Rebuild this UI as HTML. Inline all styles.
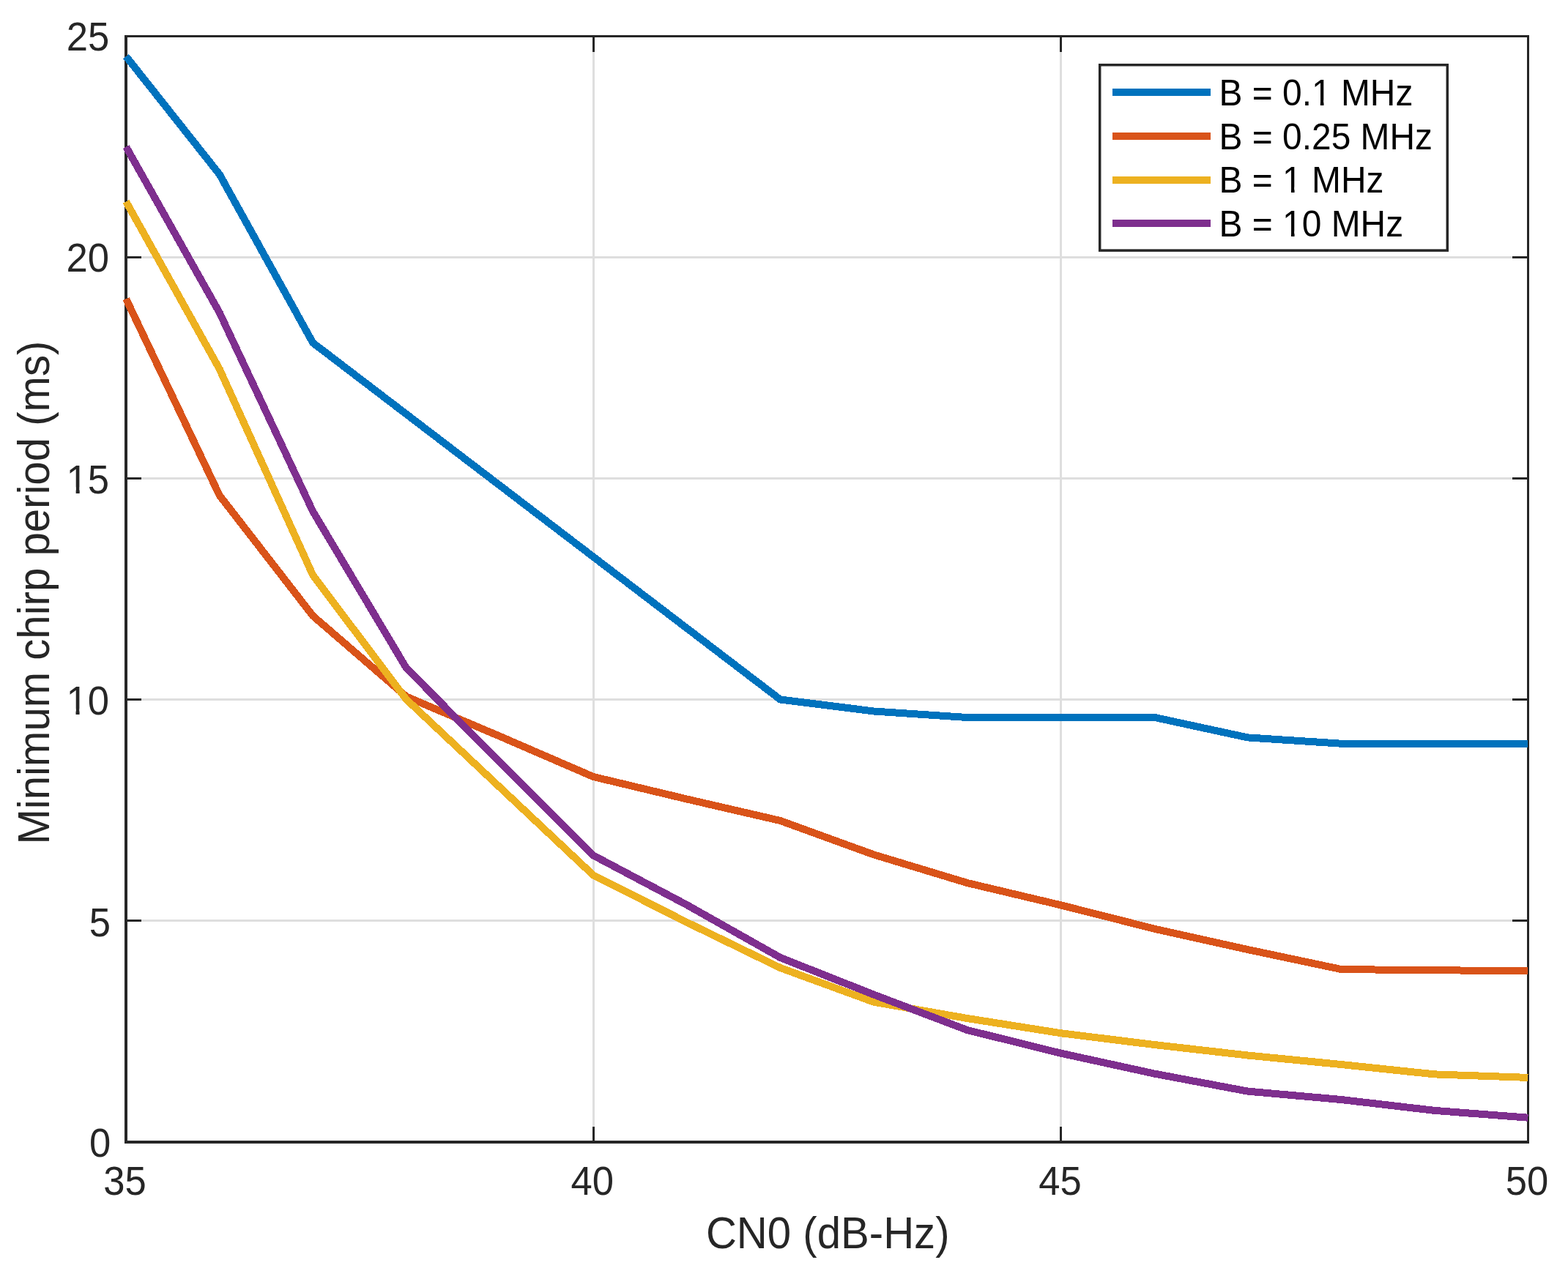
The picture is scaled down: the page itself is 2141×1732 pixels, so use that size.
<!DOCTYPE html>
<html><head><meta charset="utf-8"><title>Minimum chirp period vs CN0</title>
<style>html,body{margin:0;padding:0;background:#fff;overflow:hidden}svg{display:block}</style>
</head><body>
<svg width="2141" height="1732" viewBox="0 0 2141 1732">
<rect x="0" y="0" width="2141" height="1732" fill="#fff"/>
<g fill="#dedede" shape-rendering="crispEdges"><rect x="809.0" y="51" width="3" height="1507"/><rect x="1447.0" y="51" width="3" height="1507"/><rect x="174" y="350.0" width="1911" height="3"/><rect x="174" y="652.0" width="1911" height="3"/><rect x="174" y="954.0" width="1911" height="3"/><rect x="174" y="1256.0" width="1911" height="3"/></g>
<g fill="#262626" shape-rendering="crispEdges"><rect x="170.5" y="1539" width="3" height="21"/><rect x="170.5" y="49" width="3" height="22"/><rect x="809.0" y="1539" width="3" height="21"/><rect x="809.0" y="49" width="3" height="22"/><rect x="1447.0" y="1539" width="3" height="21"/><rect x="1447.0" y="49" width="3" height="22"/><rect x="2085.0" y="1539" width="3" height="21"/><rect x="2085.0" y="49" width="3" height="22"/><rect x="172" y="1558.0" width="21" height="3"/><rect x="2065" y="1558.0" width="21" height="3"/><rect x="172" y="1256.0" width="21" height="3"/><rect x="2065" y="1256.0" width="21" height="3"/><rect x="172" y="954.0" width="21" height="3"/><rect x="2065" y="954.0" width="21" height="3"/><rect x="172" y="652.0" width="21" height="3"/><rect x="2065" y="652.0" width="21" height="3"/><rect x="172" y="350.0" width="21" height="3"/><rect x="2065" y="350.0" width="21" height="3"/><rect x="172" y="48.0" width="21" height="3"/><rect x="2065" y="48.0" width="21" height="3"/><rect x="170" y="48" width="4" height="1514"/><rect x="2085" y="48" width="3" height="1514"/><rect x="170" y="48" width="1918" height="3"/><rect x="170" y="1558" width="1918" height="4"/></g>
<polyline fill="none" stroke="#0072BD" stroke-width="10" stroke-linejoin="round" stroke-linecap="butt" shape-rendering="crispEdges" points="172.1,77.0 299.7,238.1 427.3,468.3 1065.4,955.5 1193.1,971.5 1320.7,980.0 1448.3,980.0 1575.9,979.8 1703.5,1007.4 1831.2,1015.7 1958.8,1015.7 2086.4,1015.7"/>
<polyline fill="none" stroke="#D95319" stroke-width="10" stroke-linejoin="round" stroke-linecap="butt" shape-rendering="crispEdges" points="172.1,408.2 299.7,676.6 427.3,841.3 555.0,951.6 682.6,1005.8 810.2,1061.0 937.8,1091.5 1065.4,1121.0 1193.1,1167.4 1320.7,1206.0 1448.3,1236.3 1575.9,1268.6 1703.5,1297.0 1831.2,1324.0 1958.8,1325.4 2086.4,1325.8"/>
<polyline fill="none" stroke="#EDB120" stroke-width="10" stroke-linejoin="round" stroke-linecap="butt" shape-rendering="crispEdges" points="172.1,275.4 299.7,504.0 427.3,785.8 555.0,955.5 682.6,1075.5 810.2,1195.5 937.8,1259.8 1065.4,1322.0 1193.1,1368.7 1320.7,1391.0 1448.3,1411.2 1575.9,1427.0 1703.5,1441.5 1831.2,1454.0 1958.8,1467.4 2086.4,1471.9"/>
<polyline fill="none" stroke="#7E2F8E" stroke-width="10" stroke-linejoin="round" stroke-linecap="butt" shape-rendering="crispEdges" points="172.1,200.5 299.7,427.0 427.3,698.7 555.0,912.8 682.6,1041.0 810.2,1168.5 937.8,1236.0 1065.4,1308.0 1193.1,1358.6 1320.7,1407.0 1448.3,1438.6 1575.9,1466.5 1703.5,1490.6 1831.2,1502.0 1958.8,1516.9 2086.4,1526.7"/>
<g font-family="'Liberation Sans', Arial, Helvetica, sans-serif"><g transform="translate(121.88,1580.35) scale(0.9343,1)"><text font-size="56.30" fill="#262626">0</text></g><g transform="translate(121.81,1278.57) scale(0.9343,1)"><text font-size="56.30" fill="#262626">5</text></g><g transform="translate(90.49,976.25) scale(0.9343,1)"><text font-size="56.30" fill="#262626">10</text><rect x="3.02" y="-8.25" width="10.91" height="10.25" fill="#fff"/><rect x="19.35" y="-8.25" width="10.61" height="10.25" fill="#fff"/></g><g transform="translate(90.62,673.57) scale(0.9343,1)"><text font-size="56.30" fill="#262626">15</text><rect x="3.02" y="-8.25" width="10.91" height="10.25" fill="#fff"/><rect x="19.35" y="-8.25" width="10.61" height="10.25" fill="#fff"/></g><g transform="translate(90.49,371.25) scale(0.9343,1)"><text font-size="56.30" fill="#262626">20</text></g><g transform="translate(90.72,69.20) scale(0.9343,1)"><text font-size="56.30" fill="#262626">25</text></g><g transform="translate(141.37,1632.25) scale(0.9343,1)"><text font-size="56.30" fill="#262626">35</text></g><g transform="translate(779.60,1632.20) scale(0.9343,1)"><text font-size="56.30" fill="#262626">40</text></g><g transform="translate(1418.22,1632.47) scale(0.9343,1)"><text font-size="56.30" fill="#262626">45</text></g><g transform="translate(2055.69,1632.35) scale(0.9343,1)"><text font-size="56.30" fill="#262626">50</text></g><g transform="translate(963.89,1704.90) scale(0.9564,1)"><text font-size="60.80" fill="#262626">CN0 (dB-Hz)</text></g><g transform="translate(66.80,1153.60) rotate(-90) scale(0.9564,1)"><text font-size="60.80" fill="#262626">Minimum chirp period (ms)</text></g></g>
<rect x="1501.7" y="88.7" width="474.6" height="253.4" fill="#fff" stroke="#262626" stroke-width="3.5"/>
<line x1="1519" y1="126.3" x2="1652.8" y2="126.3" stroke="#0072BD" stroke-width="10" shape-rendering="crispEdges"/>
<line x1="1519" y1="185.8" x2="1652.8" y2="185.8" stroke="#D95319" stroke-width="10" shape-rendering="crispEdges"/>
<line x1="1519" y1="245.9" x2="1652.8" y2="245.9" stroke="#EDB120" stroke-width="10" shape-rendering="crispEdges"/>
<line x1="1519" y1="304.9" x2="1652.8" y2="304.9" stroke="#7E2F8E" stroke-width="10" shape-rendering="crispEdges"/>
<g font-family="'Liberation Sans', Arial, Helvetica, sans-serif"><g transform="translate(1664.55,143.90) scale(0.9523,1)"><text font-size="50.30" fill="#000">B = 0.1 MHz</text><rect x="135.50" y="-7.37" width="9.75" height="9.37" fill="#fff"/><rect x="150.09" y="-7.37" width="9.48" height="9.37" fill="#fff"/></g><g transform="translate(1664.55,204.00) scale(0.9523,1)"><text font-size="50.30" fill="#000">B = 0.25 MHz</text></g><g transform="translate(1664.55,262.70) scale(0.9523,1)"><text font-size="50.30" fill="#000">B = 1 MHz</text><rect x="93.56" y="-7.37" width="9.75" height="9.37" fill="#fff"/><rect x="108.15" y="-7.37" width="9.48" height="9.37" fill="#fff"/></g><g transform="translate(1664.55,322.80) scale(0.9523,1)"><text font-size="50.30" fill="#000">B = 10 MHz</text><rect x="93.56" y="-7.37" width="9.75" height="9.37" fill="#fff"/><rect x="108.15" y="-7.37" width="9.48" height="9.37" fill="#fff"/></g></g>
</svg>
</body></html>
